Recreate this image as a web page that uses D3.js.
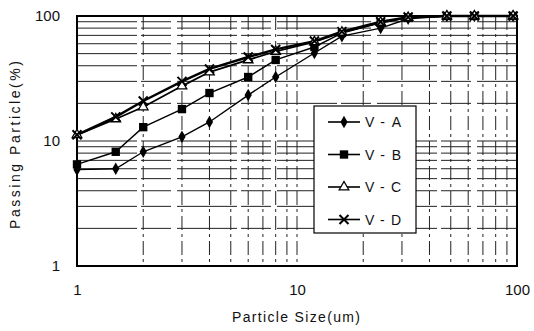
<!DOCTYPE html>
<html><head><meta charset="utf-8">
<script src="https://cdn.jsdelivr.net/npm/d3@7"></script>
<style>body{margin:0;background:#fff}svg{display:block}text{font-family:"Liberation Sans",Arial,sans-serif;fill:#111}</style>
</head><body>
<svg id="c" width="534" height="331"></svg>
<script>
const sizes = [1, 1.5, 2, 3, 4, 6, 8, 12, 16, 24, 32, 48, 64, 96];
const seriesNames = ["V-A", "V-B", "V-C", "V-D"];
const vA = [5.9, 6.0, 8.2, 10.8, 14.2, 23.3, 32.5, 50.6, 69, 80, 95, 100, 100, 100];
const vB = [6.5, 8.2, 12.9, 18, 24.2, 32.5, 44.5, 56.5, 73, 88, 97, 100, 100, 100];
const vC = [11.2, 15, 18.7, 27.5, 35.6, 44.5, 52, 62, 74, 89, 97, 100, 100, 100];
const vD = [11.2, 15.6, 20.9, 30, 37.7, 47, 54, 63, 75, 90, 98, 100, 100, 100];
const xTicks = [1, 10, 100];
const yTicks = [1, 10, 100];
const xTitle = "Particle Size(um)";
const yTitle = "Passing Particle(%)";

const svg = d3.select("#c");
const L = 77, R = 517, T = 16, B = 266;
const x = d3.scaleLog().domain([1, 100]).range([L, R]);
const y = d3.scaleLog().domain([1, 100]).range([B, T]);

const minor = [];
[1, 10].forEach(d => { for (let k = 2; k <= 9; k++) minor.push(d * k); });
minor.push(10);

const g = svg.append("g");
g.selectAll(".hg").data(minor).join("line")
  .attr("x1", L).attr("x2", R).attr("y1", d => y(d)).attr("y2", d => y(d))
  .attr("stroke", "#222").attr("stroke-width", 1).attr("stroke-dasharray", "60,4,30,6");
g.selectAll(".vg").data(minor).join("line")
  .attr("y1", T).attr("y2", B).attr("x1", d => x(d)).attr("x2", d => x(d))
  .attr("stroke", "#222").attr("stroke-width", 1).attr("stroke-dasharray", "14,4,3,4");

// axes (labels only)
const xa = d3.axisBottom(x).tickValues(xTicks).tickFormat(d3.format("d")).tickSize(0).tickPadding(18);
svg.append("g").attr("transform", `translate(0,${B})`).call(xa)
  .call(s => s.select(".domain").remove())
  .selectAll("text").attr("font-size", 15).attr("fill", "#111").attr("font-family", "Liberation Sans, Arial, sans-serif");
const ya = d3.axisLeft(y).tickValues(yTicks).tickFormat(d3.format("d")).tickSize(0).tickPadding(17);
svg.append("g").attr("transform", `translate(${L},0)`).call(ya)
  .call(s => s.select(".domain").remove())
  .selectAll("text").attr("font-size", 15).attr("fill", "#111").attr("font-family", "Liberation Sans, Arial, sans-serif");

svg.append("rect").attr("x", L).attr("y", T).attr("width", R - L).attr("height", B - T)
  .attr("fill", "none").attr("stroke", "#000").attr("stroke-width", 2);

const data = [vA, vB, vC, vD];
const widths = [1.4, 1.4, 1.8, 2.4];
const line = d3.line().x(d => x(d[0])).y(d => y(d[1]));
data.forEach((vals, i) => {
  const pts = sizes.map((s, j) => [s, vals[j]]);
  svg.append("path").attr("d", line(pts)).attr("fill", "none").attr("stroke", "#000").attr("stroke-width", widths[i]);
});

function marker(sel, i) {
  if (i === 0) sel.append("path").attr("d", d3.symbol(d3.symbolDiamond, 45)()).attr("fill", "#000");
  else if (i === 1) sel.append("path").attr("d", d3.symbol(d3.symbolSquare, 70)()).attr("fill", "#000");
  else if (i === 2) sel.append("path").attr("d", d3.symbol(d3.symbolTriangle, 40)()).attr("fill", "#fff").attr("stroke", "#000").attr("stroke-width", 1.3);
  else sel.append("path").attr("d", d3.symbol(d3.symbolTimes, 55)()).attr("fill", "none").attr("stroke", "#000").attr("stroke-width", 2);
}
data.forEach((vals, i) => {
  sizes.forEach((s, j) => {
    const m = svg.append("g").attr("transform", `translate(${x(s)},${y(vals[j])})`);
    marker(m, i);
  });
});

// legend
const lg = svg.append("g");
lg.append("rect").attr("x", 314).attr("y", 106).attr("width", 102).attr("height", 127)
  .attr("fill", "#fff").attr("stroke", "#000").attr("stroke-width", 1.2);
seriesNames.forEach((n, i) => {
  const ly = 122 + i * 32.5;
  lg.append("line").attr("x1", 328).attr("x2", 360).attr("y1", ly).attr("y2", ly).attr("stroke", "#000").attr("stroke-width", 1.6);
  marker(lg.append("g").attr("transform", `translate(344,${ly})`), i);
  lg.append("text").attr("x", 365).attr("y", ly + 5).attr("font-size", 14).attr("textLength", 36).attr("lengthAdjust", "spacing").text(n);
});

svg.append("text").attr("x", 296).attr("y", 322).attr("text-anchor", "middle").attr("font-size", 14)
  .attr("textLength", 128).attr("lengthAdjust", "spacing").text(xTitle);
svg.append("text").attr("transform", "translate(20,145) rotate(-90)").attr("text-anchor", "middle").attr("font-size", 14)
  .attr("textLength", 168).attr("lengthAdjust", "spacing").text(yTitle);
</script>
</body></html>
